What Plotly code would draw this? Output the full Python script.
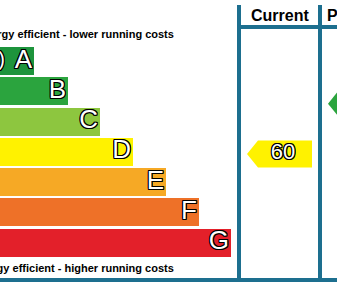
import plotly.graph_objects as go

# ---- data ----
bands = ["A", "B", "C", "D", "E", "F", "G"]
band_ranges = ["(92 plus)", "(81-91)", "(69-80)", "(55-68)", "(39-54)", "(21-38)", "(1-20)"]
band_lower = [92, 81, 69, 55, 39, 21, 1]
band_upper = [100, 91, 80, 68, 54, 38, 20]
bar_length = [114, 148, 180, 213, 246, 279, 311]   # relative bar lengths (from x=-80)
band_colors = ["#1d943c", "#2ba43e", "#8dc63f", "#fff200", "#f6a925", "#ee7128", "#e3202a"]
current_rating = 60
potential_rating = 81
top_text = "Very energy efficient - lower running costs"
bottom_text = "Not energy efficient - higher running costs"
col_headers = ["Current", "Potential"]

W, H = 337, 286
PITCH = 30.25
Y0 = 61.0
line_color = "#1d6f8f"

def band_index(r):
    for i, (lo, hi) in enumerate(zip(band_lower, band_upper)):
        if lo <= r <= hi:
            return i + (hi - r) / (hi - lo + 1) - 0.5
    return 6

def py(px):  # pixel y -> paper
    return 1 - px / H

yidx = list(range(len(bands)))
BASE = -80
ends = [BASE + v for v in bar_length]
outline = "-1px -1px 0 #000, 1px -1px 0 #000, -1px 1px 0 #000, 1px 1px 0 #000, 0 1px 0 #000, 0 -1px 0 #000, 1px 0 0 #000, -1px 0 0 #000"

fig = go.Figure()
fig.add_trace(go.Bar(
    y=yidx, x=bar_length, base=BASE, orientation="h",
    marker=dict(color=band_colors, line=dict(width=0)),
    width=28 / PITCH, hoverinfo="skip", showlegend=False,
))
fig.add_trace(go.Scatter(
    y=yidx, x=[e - 2 for e in ends], mode="text", text=bands,
    textposition="middle left",
    textfont=dict(family="Liberation Sans, Arial", size=26, color="white", shadow=outline),
    hoverinfo="skip", showlegend=False, cliponaxis=True,
))
# only the top band's range label reaches into view
fig.add_trace(go.Scatter(
    y=yidx[:1], x=[BASE + 7], mode="text", text=band_ranges[:1],
    textposition="middle right",
    textfont=dict(family="Liberation Sans, Arial", size=20, color="white", shadow=outline),
    hoverinfo="skip", showlegend=False, cliponaxis=True,
))

# arrows
hh = 13.5 / PITCH
def arrow(tip, body, right, yc, color):
    return dict(type="path", xref="x", yref="y",
                path=f"M {tip},{yc} L {body},{yc-hh} L {right},{yc-hh} L {right},{yc+hh} L {body},{yc+hh} Z",
                fillcolor=color, line=dict(width=0), layer="below")

yc_cur = band_index(current_rating)
yc_pot = band_index(potential_rating)
shapes = [
    arrow(247, 258, 312, yc_cur, band_colors[3]),
    arrow(328, 339, 404, yc_pot, band_colors[1]),
    # column lines
    dict(type="line", xref="x", yref="paper", x0=239, x1=239, y0=py(5), y1=py(281),
         line=dict(color=line_color, width=4)),
    dict(type="line", xref="x", yref="paper", x0=320, x1=320, y0=py(5), y1=py(281),
         line=dict(color=line_color, width=4)),
    dict(type="line", xref="x", yref="paper", x0=237, x1=W + 5, y0=py(27), y1=py(27),
         line=dict(color=line_color, width=4)),
    dict(type="line", xref="x", yref="paper", x0=-5, x1=W + 5, y0=py(280), y1=py(280),
         line=dict(color=line_color, width=4)),
]

fig.add_trace(go.Scatter(
    y=[yc_cur], x=[283], mode="text",
    text=[str(current_rating)],
    textfont=dict(family="Liberation Sans, Arial", size=22, color="white", shadow=outline),
    hoverinfo="skip", showlegend=False, cliponaxis=True,
))

annotations = [
    dict(text=f"<b>{top_text}</b>", xref="paper", yref="paper", x=176 / W, y=py(34),
         xanchor="right", yanchor="middle", showarrow=False,
         font=dict(family="Liberation Sans, Arial", size=11, color="black")),
    dict(text=f"<b>{bottom_text}</b>", xref="paper", yref="paper", x=176 / W, y=py(268),
         xanchor="right", yanchor="middle", showarrow=False,
         font=dict(family="Liberation Sans, Arial", size=11, color="black")),
    dict(text=f"<b>{col_headers[0]}</b>", xref="paper", yref="paper", x=280 / W, y=py(15),
         xanchor="center", yanchor="middle", showarrow=False,
         font=dict(family="Liberation Sans, Arial", size=16, color="black")),
    dict(text=f"<b>{col_headers[1]}</b>", xref="paper", yref="paper", x=325 / W, y=py(15),
         xanchor="left", yanchor="middle", showarrow=False,
         font=dict(family="Liberation Sans, Arial", size=16, color="black")),
]

fig.update_layout(
    width=W, height=H, margin=dict(l=0, r=0, t=0, b=0),
    paper_bgcolor="white", plot_bgcolor="white",
    xaxis=dict(range=[0, W], visible=False, fixedrange=True),
    yaxis=dict(range=[(H - Y0) / PITCH, -Y0 / PITCH], visible=False, fixedrange=True),
    shapes=shapes, annotations=annotations, bargap=0,
)
fig.write_html("out.html", config={"displayModeBar": False})
